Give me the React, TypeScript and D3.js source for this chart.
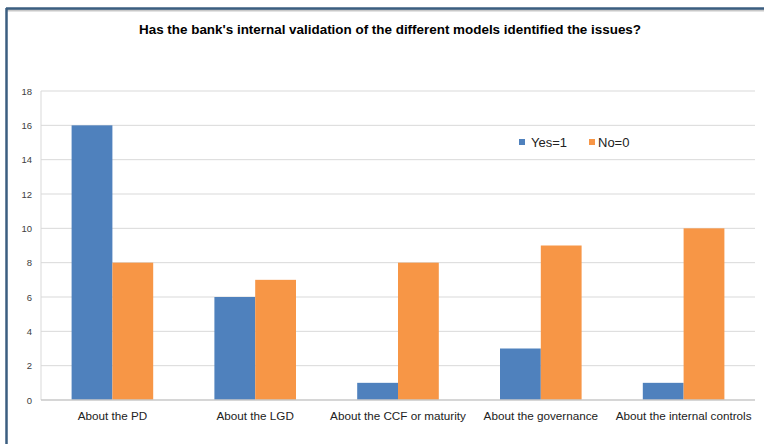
import React from "react";
import * as d3 from "d3";

const categories = ["About the PD", "About the LGD", "About the CCF or maturity", "About the governance", "About the internal controls"];
const yesValues = [16, 6, 1, 3, 1];
const noValues = [8, 7, 8, 9, 10];
const seriesNames = ["Yes=1", "No=0"];
const yTicks = [0, 2, 4, 6, 8, 10, 12, 14, 16, 18];
const title = "Has the bank's internal validation of the different models identified the issues?";

const W = 764, H = 444;
const plot = { left: 41, right: 755, top: 91, bottom: 400 };
const colors = ["#4f81bd", "#f79646"];
const font = "'Liberation Sans', Arial, sans-serif";

export default function App() {
  const x = d3.scaleBand<string>().domain(categories).range([plot.left, plot.right]).paddingInner(0).paddingOuter(0);
  const y = d3.scaleLinear().domain([0, 18]).range([plot.bottom, plot.top]);
  const bw = x.bandwidth();
  const barW = bw / 3.5;
  const inner = d3.scaleBand<number>().domain([0, 1]).range([0, barW * 2]);
  const series = [yesValues, noValues];

  return (
    <svg width={W} height={H} style={{ position: "absolute", left: 0, top: 0, background: "#fff" }}>
      <rect x={0} y={0} width={W} height={H} fill="#fff" />
      <line x1={7} y1={9} x2={W} y2={9} stroke="#c8c8c8" strokeWidth={3} transform="translate(0,1)" />
      <line x1={6} y1={8.5} x2={W} y2={8.5} stroke="#3b5e80" strokeWidth={2.5} />
      <line x1={6.5} y1={8} x2={6.5} y2={H} stroke="#3b5e80" strokeWidth={2.5} />
      <text x={390} y={34} textAnchor="middle" fontFamily={font} fontWeight="bold" fontSize={12.5} fill="#000" textLength={502} lengthAdjust="spacingAndGlyphs">{title}</text>
      {yTicks.map((t) => (
        <g key={t}>
          {t > 0 && <line x1={plot.left} x2={plot.right} y1={y(t)} y2={y(t)} stroke="#d9d9d9" strokeWidth={1} />}
          <text x={32} y={y(t) + 3.5} textAnchor="end" fontFamily={font} fontSize={9.5} fill="#404040">{t}</text>
        </g>
      ))}
      <line x1={plot.left} x2={plot.left} y1={plot.top} y2={plot.bottom} stroke="#d9d9d9" strokeWidth={1} />
      {categories.map((c, i) => (
        <g key={c}>
          {series.map((s, j) => {
            const bx = (x(c) as number) + (bw - barW * 2) / 2 + (inner(j) as number);
            return <rect key={j} x={bx} y={y(s[i])} width={barW} height={y(0) - y(s[i])} fill={colors[j]} />;
          })}
          <text x={(x(c) as number) + bw / 2} y={420} textAnchor="middle" fontFamily={font} fontSize={11.7} fill="#222">{c}</text>
        </g>
      ))}
      <line x1={plot.left} x2={plot.right} y1={plot.bottom} y2={plot.bottom} stroke="#c8c8c8" strokeWidth={1.5} />
      <g>
        <rect x={519} y={139} width={6} height={6} fill={colors[0]} />
        <text x={531} y={146.5} fontFamily={font} fontSize={13} fill="#222">{seriesNames[0]}</text>
        <rect x={589} y={139} width={6} height={6} fill={colors[1]} />
        <text x={598} y={146.5} fontFamily={font} fontSize={13} fill="#222">{seriesNames[1]}</text>
      </g>
    </svg>
  );
}
